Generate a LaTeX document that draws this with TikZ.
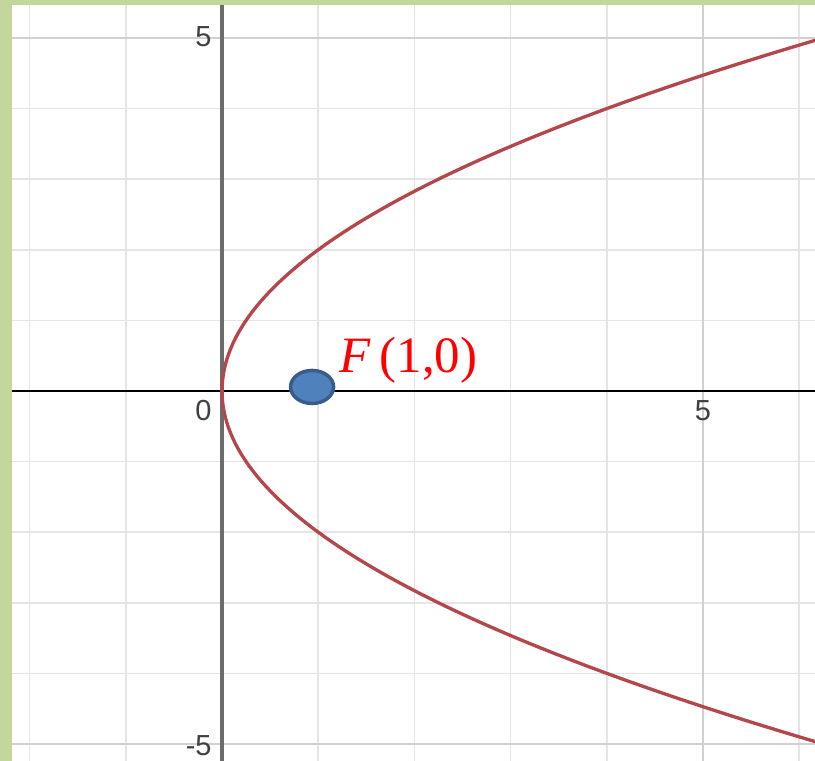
\documentclass[tikz,border=0pt]{standalone}
\usepackage{amsmath, amssymb}
\usepackage{fontspec}
\setsansfont{Liberation Sans}
\newfontfamily\serifetiqueta{Liberation Serif}
\usepackage{tikz}
\usetikzlibrary{positioning, shapes.geometric}
\definecolor{marco}{HTML}{C3D69B}
\definecolor{curva}{HTML}{B4474C}
\definecolor{puntoazul}{HTML}{4F81BD}
\definecolor{bordeazul}{HTML}{385D8A}
\tikzset{
    rejilla/.style={line width=0.9pt, gray!20},
    rejillafuerte/.style={line width=0.9pt, gray!36},
    eje/.style={line width=2.3pt, gray!85!black},
    marca/.style={font=\sffamily\fontsize{16.5}{18}\selectfont, text=black!75, inner sep=0pt},
    foco/.style={ellipse, draw=bordeazul, fill=puntoazul, line width=2pt, minimum width=0.86cm, minimum height=0.66cm, inner sep=0pt},
    etiqueta/.style={font=\serifetiqueta\fontsize{29}{33}\selectfont, text=red, inner sep=0pt}
}

\begin{document}
\begin{tikzpicture}[x=1.924cm, y=1.412cm]
      \useasboundingbox (-2.308,-5.241) rectangle (6.164,5.538);
      \fill[white] (-2.308,-5.241) rectangle (6.164,5.538);
      \begin{scope}
        \clip (-2.183,-5.241) rectangle (6.164,5.467);
        % rejilla
        \foreach \i in {-2,-1,1,2,3,4,6}
          \draw[rejilla] (\i,-5.3) -- (\i,5.6);
        \foreach \j in {-4,-3,-2,-1,1,2,3,4}
          \draw[rejilla] (-2.4,\j) -- (6.3,\j);
        \draw[rejillafuerte] (5,-5.3) -- (5,5.6);
        \draw[rejillafuerte] (-2.4,5) -- (6.3,5);
        \draw[rejillafuerte] (-2.4,-5) -- (6.3,-5);
        % ejes
        \coordinate (ejexa) at (-2.4,0);
        \coordinate (ejexb) at (6.3,0);
        \coordinate (ejeya) at (0,-5.3);
        \coordinate (ejeyb) at (0,5.6);
        \draw[line width=0.85pt, black] (ejexa) -- (ejexb);
        \draw[eje] (ejeya) -- (ejeyb);
        % parabola y^2 = 4x
        \draw[curva, line width=1.9pt, smooth, samples=121, domain=-5.1:5.1]
          plot ({\x*\x/4}, {\x});
      \end{scope}
      \fill[marco] (-2.308,-5.241) rectangle (-2.183,5.538);
      \fill[marco] (-2.308,5.467) rectangle (6.164,5.538);

      \node[marca, anchor=east] (y5) at (-0.105,5.02) {5};
      \node[marca, anchor=east] (ym5) at (-0.105,-5.02) {-5};
      \node[marca, anchor=north east] (x0) at (-0.105,-0.13) {0};
      \node[marca, anchor=north] (x5) at (5,-0.13) {5};

      \node[foco] (focus) at (0.936,0.057) {};
      \node[etiqueta, anchor=west] (flabel) at (1.22,0.43) {\textit{F}\,(1,0)};
    \end{tikzpicture}
\end{document}
